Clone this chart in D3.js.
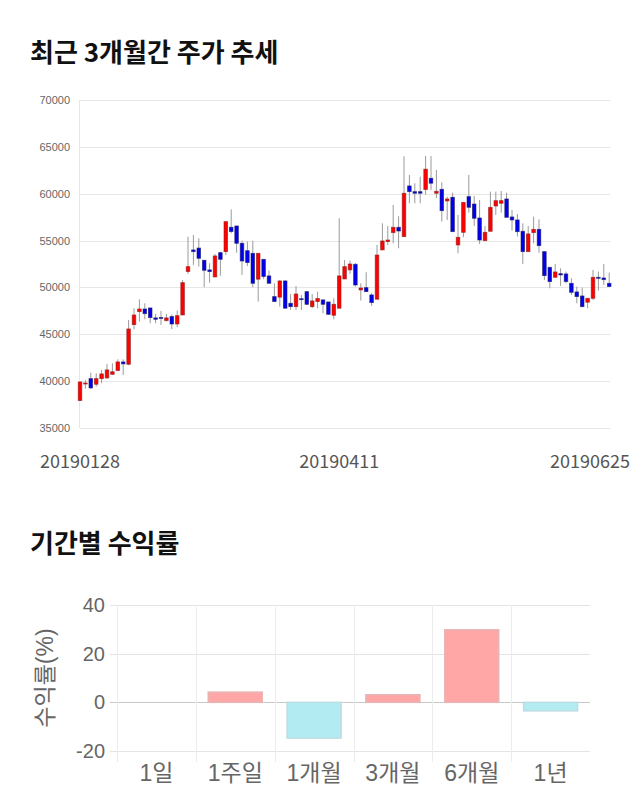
<!DOCTYPE html>
<html><head><meta charset="utf-8">
<script src="https://cdn.jsdelivr.net/npm/d3@7"></script>
<style>body{margin:0;background:#fff}svg{display:block}</style>
</head><body>
<svg id="c" width="640" height="810"></svg>
<script>
const dates = ["20190128","20190129","20190130","20190131",
"20190201","20190207","20190208","20190211","20190212","20190213","20190214","20190215","20190218","20190219","20190220","20190221","20190222","20190225","20190226","20190227","20190228",
"20190304","20190305","20190306","20190307","20190308","20190311","20190312","20190313","20190314","20190315","20190318","20190319","20190320","20190321","20190322","20190325","20190326","20190327","20190328","20190329",
"20190401","20190402","20190403","20190404","20190408","20190409","20190410","20190411","20190412","20190415","20190416","20190417","20190418","20190419","20190422","20190423","20190424","20190425","20190426","20190429","20190430",
"20190502","20190503","20190507","20190508","20190509","20190510","20190513","20190514","20190515","20190516","20190517","20190520","20190521","20190522","20190523","20190524","20190527","20190528","20190529","20190530","20190531",
"20190603","20190604","20190605","20190607","20190610","20190611","20190612","20190613","20190614","20190617","20190618","20190619","20190620","20190621","20190624","20190625"];
const opens = [37925,39700,40270,39670,40270,40340,40730,41130,42050,41800,46030,47420,47700,47810,46750,46800,46460,46890,46100,47060,51690,54000,54200,52900,51870,51120,53710,53820,56420,56560,54710,53920,53640,50880,53000,51230,49020,48960,50690,48310,47950,48800,49550,47950,48490,48670,48450,47030,47780,50900,51870,52470,49730,49980,49200,48740,54000,54890,55850,56420,55420,60830,60220,60220,60450,61650,60050,60470,59230,59620,54530,55880,59690,58900,57410,54990,55990,58690,58980,59440,57520,57200,55990,53820,55850,56200,53820,52150,51080,51470,51440,50440,49520,49090,48420,48840,51080,51010,50440];
const highs = [39950,40100,40900,40840,41200,41840,41900,42330,42330,46530,47770,48730,48300,47810,47170,47500,47170,47100,47530,50800,55420,55600,55240,52900,52580,53570,53820,57020,58340,56560,54990,54890,54990,53640,53000,51800,50440,50800,50800,49300,50160,49200,49620,49300,49550,48740,48450,48840,57380,52930,52860,52600,50440,51620,49380,54530,56840,56560,58800,57600,64000,62000,61110,61820,64030,64030,62530,61220,59690,60110,57730,59080,62000,59760,59330,56560,60220,60220,60290,60110,58260,57840,56840,56560,57550,57270,53820,52150,52500,52040,51690,50980,50090,49980,48840,51870,51690,52500,51580];
const lows = [37900,39200,39150,39420,39780,40270,40660,41130,40660,41700,45540,46350,46600,46180,46180,46000,46350,45540,45750,47030,51440,52400,52220,50020,50510,51080,51260,53460,55780,53710,51330,52290,50020,48490,50880,50440,48490,47950,47780,47600,47600,47600,48130,47780,47780,47240,47060,46600,47780,50900,51440,50080,48600,49550,48020,48740,54000,54530,54710,54180,55420,58980,58980,58980,59900,60400,59550,57020,57200,55950,53640,55350,57980,56560,54640,54990,55990,57730,57980,57480,56060,55420,52500,53820,54710,53710,50800,49910,51080,50160,50440,49200,48310,47880,47780,48670,49660,50260,50090];
const closes = [39916,39800,39280,40270,40770,41200,41000,42050,41840,45570,47060,47700,47200,46780,46600,46700,46750,46100,46990,50510,52220,53820,53110,51830,51690,53360,53000,57020,55960,54710,52820,52650,50440,53640,51160,50440,48490,50690,47780,47950,49300,48700,48200,48560,48810,48200,47130,48200,51230,52220,52500,50260,49940,49550,48380,53460,54960,55060,56420,56020,60050,60220,60050,60050,62620,61120,60260,58190,59440,55950,55350,59080,58550,57380,55060,55880,58550,59260,59260,57480,57200,55950,53820,55710,56200,54460,51260,50620,51650,51330,50620,49480,49020,47950,48840,51080,50980,50830,50090];
const priceTicks = [35000,40000,45000,50000,55000,60000,65000,70000];
const dateTickLabels = ["20190128","20190411","20190625"];

const periods = ["1일","1주일","1개월","3개월","6개월","1년"];
const returns = [0, 4.2, -14.7, 3.1, 29.8, -3.5];
const returnTicks = [-20, 0, 20, 40];

const svg = d3.select("#c");
svg.append("rect").attr("width",640).attr("height",810).attr("fill","#fff");

const KFONT = "'Noto Sans CJK KR','Noto Sans',sans-serif";
const LFONT = "'Liberation Sans','Noto Sans CJK KR',Arial,sans-serif";

// ---------- Title 1 ----------
svg.append("text").attr("x",30).attr("y",62).text("최근 3개월간 주가 추세")
  .attr("font-family",KFONT).attr("font-weight","bold").attr("font-size",26).attr("fill","#111");

// ---------- Candlestick chart ----------
const x = d3.scalePoint().domain(d3.range(dates.length)).range([80, 609.2]);
const y = d3.scaleLinear().domain([35000,70000]).range([428,100]);

const g = svg.append("g");
g.selectAll("line.hg").data(priceTicks).join("line")
  .attr("x1",80).attr("x2",610).attr("y1",d=>Math.round(y(d))+0.5).attr("y2",d=>Math.round(y(d))+0.5)
  .attr("stroke","#e6e6e6").attr("stroke-width",1);
g.append("line").attr("x1",79.5).attr("x2",79.5).attr("y1",100).attr("y2",428)
  .attr("stroke","#e6e6e6");
g.selectAll("text.pt").data(priceTicks).join("text")
  .attr("x",70).attr("y",d=>y(d)+4).attr("text-anchor","end")
  .attr("font-family",LFONT).attr("font-size",11).attr("fill","#666").text(d=>d);

const idx = d3.range(dates.length);
g.selectAll("line.wick").data(idx).join("line")
  .attr("x1",i=>x(i)).attr("x2",i=>x(i))
  .attr("y1",i=>y(highs[i])).attr("y2",i=>y(lows[i]))
  .attr("stroke","#9a9a9a").attr("stroke-width",1);
g.selectAll("rect.body").data(idx).join("rect")
  .attr("x",i=>x(i)-1.8).attr("width",3.6)
  .attr("y",i=>y(Math.max(opens[i],closes[i])))
  .attr("height",i=>Math.max(1, Math.abs(y(opens[i])-y(closes[i]))))
  .attr("fill",i=>closes[i]>=opens[i]?"#ff0000":"#0000ee")
  .attr("stroke",i=>closes[i]>=opens[i]?"#8a2020":"#202060").attr("stroke-width",0.8).attr("stroke-opacity",0.7);

g.selectAll("text.dt").data(dateTickLabels).join("text")
  .attr("x",d=>Math.min(x(dates.indexOf(d)), 590)).attr("y",468).attr("text-anchor","middle")
  .attr("font-family",KFONT).attr("font-size",18).attr("fill","#555").text(d=>d);

// ---------- Title 2 ----------
svg.append("text").attr("x",30).attr("y",553).text("기간별 수익률")
  .attr("font-family",KFONT).attr("font-weight","bold").attr("font-size",26).attr("fill","#111");

// ---------- Bar chart ----------
const bx = d3.scaleBand().domain(periods).range([117,590]).padding(0);
const by = d3.scaleLinear().domain([-20,40]).range([751,605]);
const b = svg.append("g");
b.selectAll("line.bh").data(returnTicks).join("line")
  .attr("x1",110).attr("x2",590).attr("y1",d=>Math.round(by(d))+0.5).attr("y2",d=>Math.round(by(d))+0.5)
  .attr("stroke",d=>d===0?"#c8c8c8":"#e4e4e4").attr("stroke-width",1);
b.selectAll("line.bv").data(periods).join("line")
  .attr("x1",d=>Math.round(bx(d))+0.5).attr("x2",d=>Math.round(bx(d))+0.5)
  .attr("y1",605).attr("y2",762).attr("stroke","#ececec");
b.selectAll("text.bt").data(returnTicks).join("text")
  .attr("x",105).attr("y",d=>by(d)+7).attr("text-anchor","end")
  .attr("font-family",LFONT).attr("font-size",20).attr("fill","#666").text(d=>d);
const bw = bx.bandwidth()*0.685;
b.selectAll("rect.bar").data(periods).join("rect")
  .attr("x",(d)=>bx(d)+(bx.bandwidth()-bw)/2).attr("width",bw)
  .attr("y",(d,i)=>by(Math.max(0,returns[i])))
  .attr("height",(d,i)=>Math.abs(by(returns[i])-by(0)))
  .attr("fill",(d,i)=>returns[i]>=0?"#ffa6a6":"#b2ebf2")
  .attr("stroke",(d,i)=>returns[i]>=0?"#e8b4b4":"#bcdde2").attr("stroke-width",1.5);
b.selectAll("text.bl").data(periods).join("text")
  .attr("x",d=>bx(d)+bx.bandwidth()/2).attr("y",781).attr("text-anchor","middle")
  .attr("font-family",LFONT).attr("font-size",23).attr("fill","#666").text(d=>d);
b.append("text").attr("transform","translate(53,678) rotate(-90)").attr("text-anchor","middle")
  .attr("font-family",LFONT).attr("font-size",23).attr("fill","#666").text("수익률(%)");
</script>
</body></html>
